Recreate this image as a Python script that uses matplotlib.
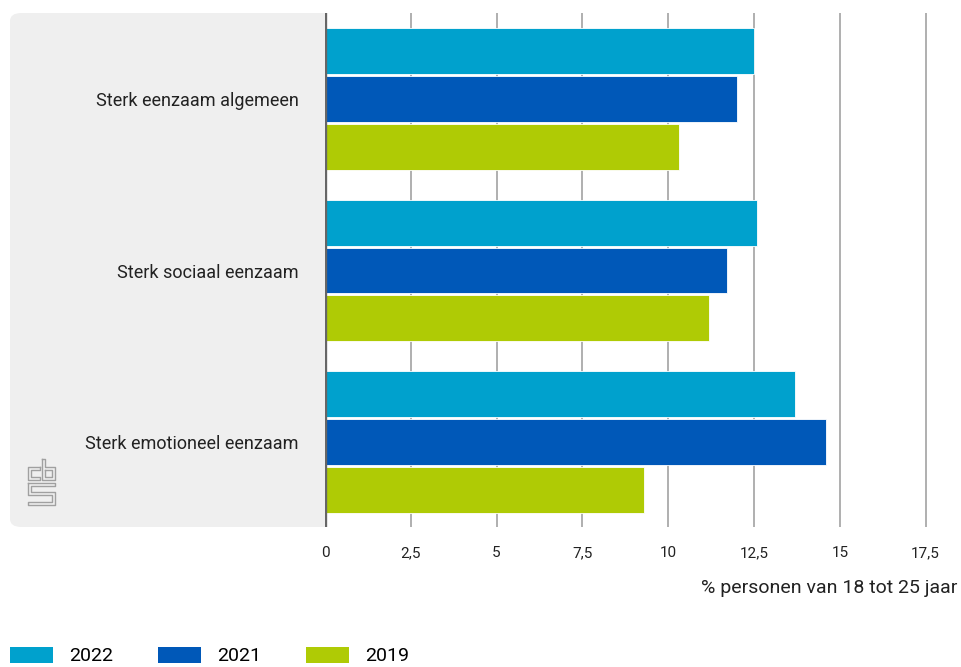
import matplotlib
matplotlib.use("Agg")
import matplotlib.pyplot as plt
import matplotlib.patches as mpatches
from matplotlib.lines import Line2D
import numpy as np

# === data ===
categories = ["Sterk eenzaam algemeen", "Sterk sociaal eenzaam", "Sterk emotioneel eenzaam"]
years = ["2022", "2021", "2019"]
values_2022 = [12.5, 12.6, 13.7]
values_2021 = [12.0, 11.7, 14.6]
values_2019 = [10.3, 11.2, 9.3]
xticks = [0, 2.5, 5, 7.5, 10, 12.5, 15, 17.5]
xtick_labels = ["0", "2,5", "5", "7,5", "10", "12,5", "15", "17,5"]
xlabel = "% personen van 18 tot 25 jaar"

colors = {"2022": "#00a1cd", "2021": "#0058b8", "2019": "#afcb05"}
series = {"2022": values_2022, "2021": values_2021, "2019": values_2019}

plt.rcParams["font.family"] = ["Roboto", "DejaVu Sans"]

W, H = 961, 667
fig = plt.figure(figsize=(W / 100, H / 100), dpi=100)

def fx(px):
    return px / W

def fy(py):
    return 1 - py / H

# axes: left at x=325, top y=13, bottom y=527
ax = fig.add_axes([fx(325), fy(527), fx(960) - fx(325), fy(13) - fy(527)])

# grey label panel behind the category labels
panel = mpatches.FancyBboxPatch(
    (fx(10), fy(527)), fx(340) - fx(10), fy(13) - fy(527),
    boxstyle="round,pad=0,rounding_size=0.012",
    transform=fig.transFigure, facecolor="#efefef", edgecolor="none", zorder=-1
)
fig.patches.append(panel)

y_pos = np.arange(len(categories))
pitch = 48 / 172
bar_h = 46 / 172
offsets = [-pitch, 0, pitch]

for i, yr in enumerate(years):
    ax.barh(y_pos + offsets[i], series[yr], height=bar_h, color=colors[yr],
            edgecolor="white", linewidth=0.6, zorder=3)

ax.set_xlim(0, 18.5)
ax.set_ylim(2.494, -0.5)
ax.set_xticks(xticks)
ax.set_xticklabels(xtick_labels, fontsize=11, color="#222222")
ax.set_yticks(y_pos)
ax.set_yticklabels(categories, fontsize=13, color="#222222")
ax.tick_params(axis="y", length=0, pad=19)
ax.tick_params(axis="x", length=0, pad=14)
ax.grid(axis="x", color="#9a9a9a", linewidth=1.1, zorder=0)
ax.set_axisbelow(True)
for s in ax.spines.values():
    s.set_visible(False)
ax.axvline(0, color="#666666", linewidth=2.4, zorder=4)

fig.text(fx(957), fy(588), xlabel, ha="right", va="center", fontsize=14, color="#222222")

# legend
handles = [mpatches.Patch(facecolor=colors[yr], edgecolor="none", label=yr) for yr in years]
fig.legend(handles=handles, loc="center left", bbox_to_anchor=(fx(10), fy(656)),
           ncol=3, frameon=False, fontsize=14, handlelength=2.2, handleheight=0.9,
           handletextpad=0.85, columnspacing=2.3, borderpad=0, borderaxespad=0)

# cbs logo (outline drawing)
logo_color = "#a0a0a0"
logo_shapes = [
    [(40, 467), (28, 467), (28, 480), (40, 480), (40, 477), (31, 477), (31, 470), (40, 470), (40, 467)],
    [(42, 459), (45, 459), (45, 467), (55, 467), (55, 480), (42, 480), (42, 459)],
    [(45, 470), (52, 470), (52, 477), (45, 477), (45, 470)],
    [(28, 483), (55, 483), (55, 486), (31, 486), (31, 492), (55, 492), (55, 505), (28, 505),
     (28, 502), (52, 502), (52, 495), (28, 495), (28, 483)],
]
for shape in logo_shapes:
    xs = [fx(p[0]) for p in shape]
    ys = [fy(p[1]) for p in shape]
    fig.add_artist(Line2D(xs, ys, transform=fig.transFigure, color=logo_color, linewidth=1.0))

fig.savefig("out.png", dpi=100)
